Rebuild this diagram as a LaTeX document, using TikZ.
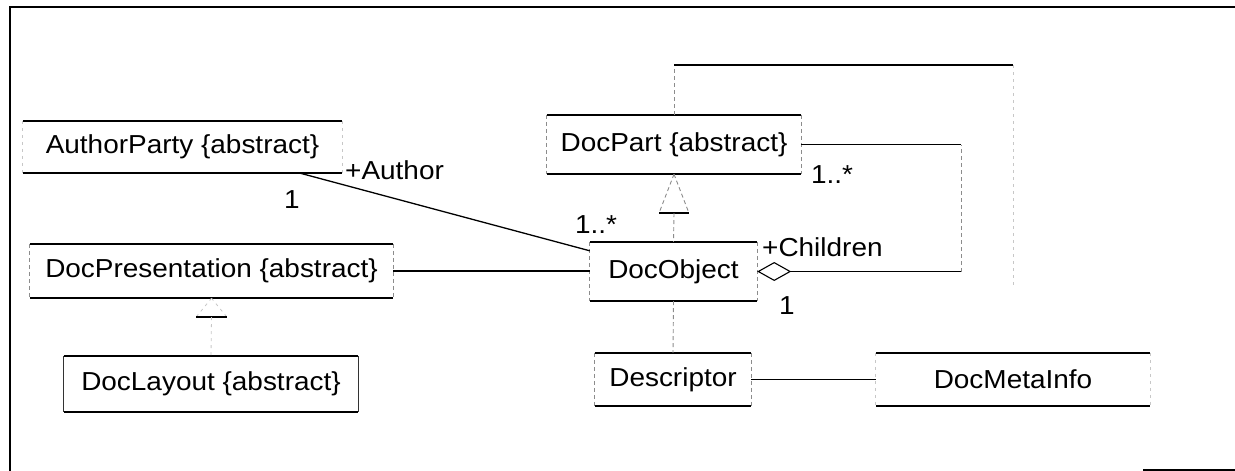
\documentclass[tikz,border=0pt]{standalone}
\usepackage{fontspec}
\setmainfont{Liberation Sans}[FakeStretch=1.075]
\usetikzlibrary{calc,arrows.meta}

% Draw the four edges of a class box: solid top and bottom, lighter sides.
\newcommand\classedges[2][vline]{%
  \draw[#1] (#2.north west) -- (#2.south west) (#2.north east) -- (#2.south east);
  \draw[hline] (#2.north west) -- (#2.north east) (#2.south west) -- (#2.south east);}

\begin{document}
\begin{tikzpicture}[x=1pt,y=-1pt,
  cls/.style={inner sep=0pt, font=\fontsize{26}{30}\selectfont},
  lbl/.style={inner sep=0pt, font=\fontsize{26}{30}\selectfont},
  hline/.style={line width=1.5pt, black},
  link/.style={line width=1.3pt, black},
  vline/.style={line width=0.9pt, black!45, dash pattern=on 4pt off 3pt},
  vfaint/.style={line width=0.8pt, black!22, dash pattern=on 3pt off 4pt},
  vsolid/.style={line width=1.1pt, black!80},
  borderline/.style={line width=1.8pt, black}]
\useasboundingbox (0,0) rectangle (1235,471);

% outer frame
\coordinate (fTL) at (10,7);
\coordinate (fBL) at (10,471);
\coordinate (fTR) at (1235,7);
\draw[borderline] (fBL) -- (fTL) -- (fTR);
\coordinate (fR1) at (1143,470);
\coordinate (fR2) at (1235,470);
\draw[borderline] (fR1) -- (fR2);

% classes
\node[cls, minimum width=319pt, minimum height=52pt] (author) at (182.5,147) {AuthorParty \{abstract\}};
\node[cls, minimum width=254pt, minimum height=59pt] (part) at (674,144.5) {DocPart \{abstract\}};
\node[cls, minimum width=363pt, minimum height=54pt] (pres) at (211.5,271) {DocPresentation \{abstract\}};
\node[cls, minimum width=294pt, minimum height=56pt] (lay) at (211,384) {DocLayout \{abstract\}};
\node[cls, minimum width=167pt, minimum height=59pt] (obj) at (673.5,271.5) {DocObject};
\node[cls, minimum width=156pt, minimum height=53pt] (desc) at (673,379.5) {Descriptor};
\node[cls, minimum width=274pt, minimum height=53pt] (meta) at (1013,379.5) {DocMetaInfo};

\classedges[vfaint]{author}
\classedges{part}
\classedges{pres}
\classedges[vsolid]{lay}
\classedges{obj}
\classedges{desc}
\classedges[vfaint]{meta}

% association AuthorParty -- DocObject
\draw[link] ($(author.south east)+(-42,0)$) -- ($(obj.north west)+(0,9)$);
\node[lbl, anchor=west] (lauth) at (345,170) {+Author};
\node[lbl] (lone1) at (292,200) {1};
\node[lbl] (lmany1) at (596,225) {1..*};

% association DocPresentation -- DocObject
\draw[link] (pres.east) -- (pres.east -| obj.west);

% generalization DocObject -> DocPart
\draw[vline] (part.south) -- ++(-15,39) coordinate (gp1);
\draw[vline] (part.south) -- ++(15,39) coordinate (gp2);
\draw[hline] (gp1) -- (gp2);
\draw[vline] ($(gp1)!0.5!(gp2)$) -- (obj.north);

% generalization DocLayout -> DocPresentation
\draw[vfaint] (pres.south) -- ++(-15.5,19) coordinate (gl1);
\draw[vfaint] (pres.south) -- ++(15.5,19) coordinate (gl2);
\draw[hline] (gl1) -- (gl2);
\draw[vfaint] ($(gl1)!0.5!(gl2)$) -- (lay.north);

% aggregation DocObject <>-- DocPart
\coordinate (aggx) at (961,0);
\draw[link, {Diamond[open,length=34pt,width=19pt,line width=1.1pt]}-] (obj.east) -- (obj.east -| aggx) coordinate (agg1);
\draw[vline] (agg1) -- (part.east -| aggx) coordinate (agg2);
\draw[link] (agg2) -- (part.east);
\node[lbl, anchor=west] (lchild) at (762,247) {+Children};
\node[lbl] (lone2) at (787,306) {1};
\node[lbl] (lmany2) at (832,175) {1..*};

% association leaving the top of DocPart
\coordinate (loopx) at (1013,65);
\draw[vline] (part.north) -- (part.north |- loopx) coordinate (lp1);
\draw[link] (lp1) -- (loopx);
\draw[vfaint] (loopx) -- ++(0,222) coordinate (lp2);

% DocObject -- Descriptor -- DocMetaInfo
\draw[vline] (obj.south) -- (desc.north);
\draw[link] (desc.east) -- (desc.east -| meta.west);
\end{tikzpicture}
\end{document}
